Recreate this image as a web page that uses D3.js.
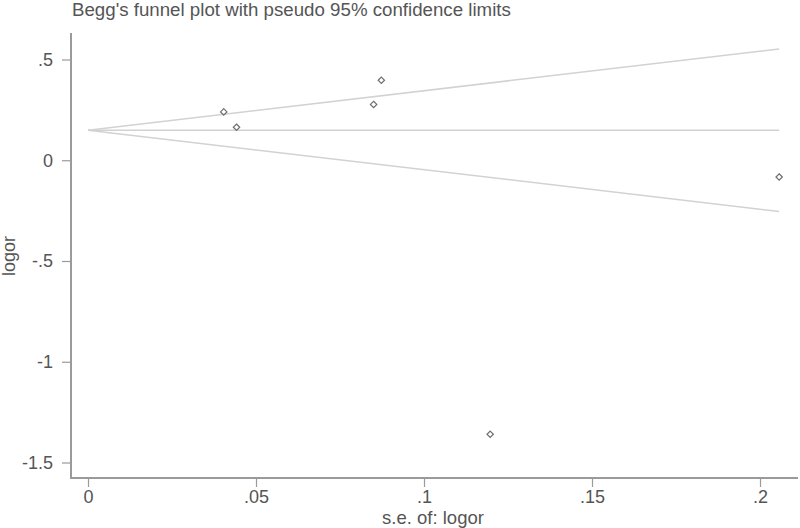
<!DOCTYPE html>
<html>
<head>
<meta charset="utf-8">
<script src="https://cdn.jsdelivr.net/npm/d3@7"></script>
<style>
  body { margin: 0; background: #fff; }
  text { font-family: "Liberation Sans", Arial, sans-serif; fill: #555; }
</style>
</head>
<body>
<div id="chart"></div>
<script>
// study standard errors and log odds ratios
const seValues = [0.0404, 0.0442, 0.0850, 0.0873, 0.2057, 0.1197];
const logorValues = [0.240, 0.164, 0.277, 0.397, -0.083, -1.360];
const pooledLogor = 0.149;
const xTicks = [0, 0.05, 0.1, 0.15, 0.2];
const yTicks = [0.5, 0, -0.5, -1, -1.5];
const fmt = v => v === 0 ? "0" : String(v).replace("0.", ".");

const width = 800, height = 528;
const svg = d3.select("#chart").append("svg")
    .attr("width", width)
    .attr("height", height);

const x = d3.scaleLinear().domain([0, 0.2]).range([88, 760]);
const y = d3.scaleLinear().domain([0.5, -1.5]).range([59.5, 462.5]);

// axes frame
svg.append("line")
    .attr("x1", 71).attr("x2", 71).attr("y1", 33).attr("y2", 478)
    .attr("stroke", "#9a9a9a").attr("stroke-width", 2);
svg.append("line")
    .attr("x1", 70).attr("x2", 798).attr("y1", 478).attr("y2", 478)
    .attr("stroke", "#9a9a9a").attr("stroke-width", 2);

const yAxis = svg.append("g")
    .attr("transform", "translate(71,0)")
    .call(d3.axisLeft(y).tickValues(yTicks).tickFormat(fmt).tickSize(9).tickPadding(9));
yAxis.select(".domain").remove();

const xAxis = svg.append("g")
    .attr("transform", "translate(0,478)")
    .call(d3.axisBottom(x).tickValues(xTicks).tickFormat(fmt).tickSize(9).tickPadding(3));
xAxis.select(".domain").remove();

svg.selectAll(".tick line").attr("stroke", "#9a9a9a").attr("stroke-width", 1.2);
svg.selectAll(".tick text").attr("fill", "#555").style("font-size", "18px")
    .style("font-family", "'Liberation Sans', Arial, sans-serif");

// pseudo 95% confidence limits
const seMax = d3.max(seValues);
const funnel = [
  [[0, pooledLogor], [seMax, pooledLogor + 1.96 * seMax]],
  [[0, pooledLogor], [seMax, pooledLogor]],
  [[0, pooledLogor], [seMax, pooledLogor - 1.96 * seMax]]
];
const line = d3.line().x(d => x(d[0])).y(d => y(d[1]));
svg.selectAll(".funnel").data(funnel).enter().append("path")
    .attr("d", line)
    .attr("fill", "none")
    .attr("stroke", "#d2d2d2")
    .attr("stroke-width", 1.5);

// study points as hollow diamonds
const pts = seValues.map((s, i) => ({se: s, logor: logorValues[i]}));
svg.selectAll(".pt").data(pts).enter().append("path")
    .attr("d", d3.symbol(d3.symbolDiamond2, 26))
    .attr("transform", d => `translate(${x(d.se)},${y(d.logor)})`)
    .attr("fill", "none")
    .attr("stroke", "#6e6e6e")
    .attr("stroke-width", 1.2);

// titles
svg.append("text")
    .attr("x", 72).attr("y", 16)
    .style("font-size", "18.7px")
    .text("Begg's funnel plot with pseudo 95% confidence limits");
svg.append("text")
    .attr("x", 433).attr("y", 524)
    .attr("text-anchor", "middle")
    .style("font-size", "18.5px")
    .text("s.e. of: logor");
svg.append("text")
    .attr("transform", "translate(15,256) rotate(-90)")
    .attr("text-anchor", "middle")
    .style("font-size", "18px")
    .text("logor");
</script>
</body>
</html>
